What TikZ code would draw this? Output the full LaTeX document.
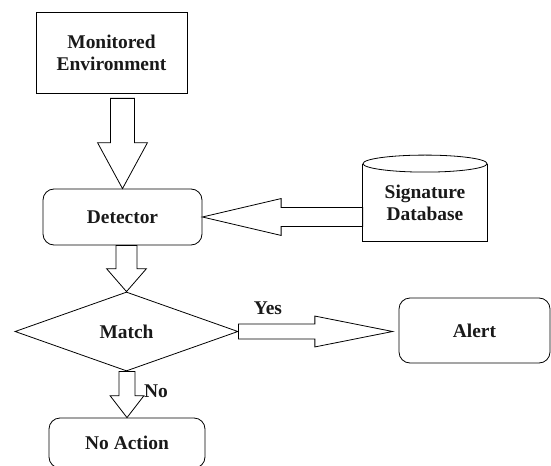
\documentclass[tikz,border=0pt]{standalone}
\usepackage{fontspec}
\setmainfont{Liberation Serif}
\usetikzlibrary{shapes.geometric,calc}

% block arrow pointing down: start, tip, shaft half width, head half width, head length
\newcommand\vblock[5]{%
	\draw[blockarrow] let \p1=(#1), \p2=(#2) in
		(\x2-#3,\y1) -- (\x2-#3,\y2+#5) -- (\x2-#4,\y2+#5) -- (\x2,\y2)
		-- (\x2+#4,\y2+#5) -- (\x2+#3,\y2+#5) -- (\x2+#3,\y1) -- cycle;}
% block arrow sideways: start, tip, shaft half height, head half height, signed head length
\newcommand\hblock[5]{%
	\draw[blockarrow] let \p1=(#1), \p2=(#2) in
		(\x1,\y2-#3) -- (\x2+#5,\y2-#3) -- (\x2+#5,\y2-#4) -- (\x2,\y2)
		-- (\x2+#5,\y2+#4) -- (\x2+#5,\y2+#3) -- (\x1,\y2+#3) -- cycle;}

\begin{document}
\begin{tikzpicture}[x=1bp, y=-1bp,
			line width=0.8pt,
			every node/.style={
				font=\fontsize{19.5}{22}\selectfont\bfseries,
				text=black!90,
				align=center,
				inner sep=0pt},
			box/.style={
				draw,
				rectangle},
			rbox/.style={
				draw,
				rectangle,
				rounded corners=11bp},
			blockarrow/.style={
				draw,
				fill=white,
				line join=miter}]
			\useasboundingbox (0,0) rectangle (551,466);
			\node (env) at (111.5,52.5) [box, minimum width=151bp, minimum height=81bp] {Monitored\\Environment};
			\node (det) at (122.5,217) [rbox, minimum width=159bp, minimum height=56bp] {Detector};
			\node (db) at (425,202.5) [minimum width=124bp, minimum height=77bp] {Signature\\Database};
			\draw (db.north west) -- (db.south west) -- (db.south east) -- (db.north east);
			\draw (db.north) ellipse [x radius=62, y radius=8.5];
			\node (match) at (126.5,331.5) [diamond, draw, minimum width=223bp, minimum height=79bp] {Match};
			\node (alert) at (474.5,330.5) [rbox, minimum width=151bp, minimum height=65bp] {Alert};
			\node (noact) at (127,443) [rbox, minimum width=156bp, minimum height=50bp] {No Action};
			\node (yes) at (268,308) {Yes};
			\node (no) at (156,391) {No};
			\vblock{$(env.south -| det.north)+(0,5)$}{det.north}{12}{25}{46}
			\vblock{det.south}{match.north}{10.5}{20}{23}
			\vblock{match.south}{noact.north}{8}{17}{22}
			\hblock{db.west |- det.east}{det.east}{9.5}{18.5}{79}
			\hblock{match.east}{$(alert.west |- match.east)+(-6,0)$}{7.5}{15.5}{-78}
\end{tikzpicture}
\end{document}
